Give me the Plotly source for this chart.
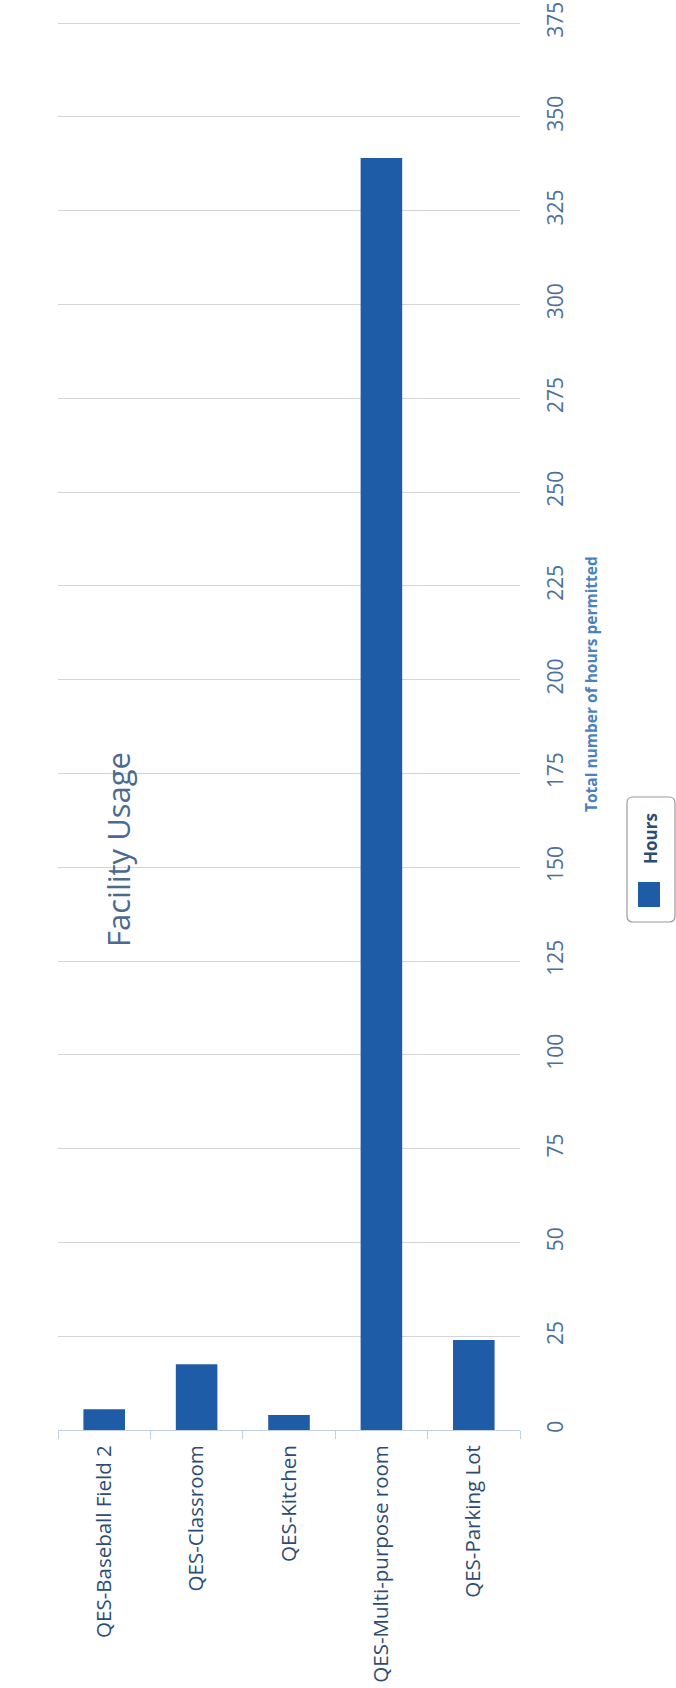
import plotly.graph_objects as go

# Facility usage data (hours permitted per facility)
facilities = [
    "QES-Baseball Field 2",
    "QES-Classroom",
    "QES-Kitchen",
    "QES-Multi-purpose room",
    "QES-Parking Lot",
]
hours = [5.5, 17.5, 4, 339, 24]
series_name = "Hours"
chart_title = "Facility Usage"
value_axis_title = "Total number of hours permitted"
value_ticks = list(range(0, 376, 25))

# Page geometry (pixels) and plot margins
W, H = 676, 1688
L, R, T, B = 58, 156, 20, 258
PW, PH = W - L - R, H - T - B


def fx(px):
    """Pixel x -> paper x."""
    return (px - L) / PW


def fy(py):
    """Pixel y (from top) -> paper y."""
    return (H - B - py) / PH


BAR_COLOR = "#1f5ca8"
FONT = "Open Sans, DejaVu Sans, sans-serif"

fig = go.Figure(
    go.Bar(
        x=facilities,
        y=hours,
        name=series_name,
        marker=dict(color=BAR_COLOR, line=dict(width=0)),
        showlegend=False,
    )
)

fig.update_layout(
    width=W,
    height=H,
    margin=dict(l=L, r=R, t=T, b=B, pad=0, autoexpand=False),
    paper_bgcolor="white",
    plot_bgcolor="white",
    bargap=0.55,
    font=dict(family=FONT),
    showlegend=False,
)

fig.update_xaxes(
    type="category",
    automargin=False,
    tickangle=-90,
    showline=True,
    linecolor="#c0d0e0",
    linewidth=1,
    ticks="outside",
    tickson="boundaries",
    ticklen=8,
    tickcolor="#c0d0e0",
    tickfont=dict(size=20.5, color="#2b4c73", family=FONT),
    ticklabelstandoff=6,
    showgrid=False,
)

fig.update_yaxes(
    side="right",
    automargin=False,
    range=[0, 375.8],
    tickvals=value_ticks,
    ticktext=[str(v) for v in value_ticks],
    tickangle=-90,
    showgrid=True,
    gridcolor="#d4d4d4",
    gridwidth=1,
    zeroline=False,
    showline=False,
    ticks="",
    ticklabelstandoff=21,
    tickfont=dict(size=21, color="#4d6f99", family=FONT),
)

# Value-axis title, placed as a rotated annotation beside the tick labels
fig.add_annotation(
    text="<b>" + value_axis_title + "</b>",
    xref="paper", yref="paper",
    x=fx(591), y=fy(684),
    xanchor="center", yanchor="middle",
    textangle=-90,
    showarrow=False,
    font=dict(size=15.5, color="#4a82bd", family=FONT),
)

# Chart title, rotated to run along the left edge
fig.add_annotation(
    text=chart_title,
    xref="paper", yref="paper",
    x=fx(118), y=fy(850),
    xanchor="center", yanchor="middle",
    textangle=-90,
    showarrow=False,
    font=dict(size=31, color="#4a6a92", family=FONT),
)

# Legend box drawn by hand so it can be rotated with the rest of the chart
lx0, lx1, ly0, ly1, rad = 627, 675, 797, 922, 6
legend_path = (
    f"M {fx(lx0 + rad)} {fy(ly0)} L {fx(lx1 - rad)} {fy(ly0)} "
    f"Q {fx(lx1)} {fy(ly0)} {fx(lx1)} {fy(ly0 + rad)} "
    f"L {fx(lx1)} {fy(ly1 - rad)} Q {fx(lx1)} {fy(ly1)} {fx(lx1 - rad)} {fy(ly1)} "
    f"L {fx(lx0 + rad)} {fy(ly1)} Q {fx(lx0)} {fy(ly1)} {fx(lx0)} {fy(ly1 - rad)} "
    f"L {fx(lx0)} {fy(ly0 + rad)} Q {fx(lx0)} {fy(ly0)} {fx(lx0 + rad)} {fy(ly0)} Z"
)
fig.add_shape(
    type="path",
    path=legend_path,
    xref="paper", yref="paper",
    line=dict(color="#9a9a9a", width=1.2),
    fillcolor="white",
    layer="above",
)
fig.add_shape(
    type="rect",
    xref="paper", yref="paper",
    x0=fx(638), x1=fx(660), y0=fy(907), y1=fy(882),
    line=dict(width=0),
    fillcolor=BAR_COLOR,
    layer="above",
)
fig.add_annotation(
    text="<b>" + series_name + "</b>",
    xref="paper", yref="paper",
    x=fx(650), y=fy(839),
    xanchor="center", yanchor="middle",
    textangle=-90,
    showarrow=False,
    font=dict(size=17, color="#2b4c73", family=FONT),
)

fig.write_html("out.html")
